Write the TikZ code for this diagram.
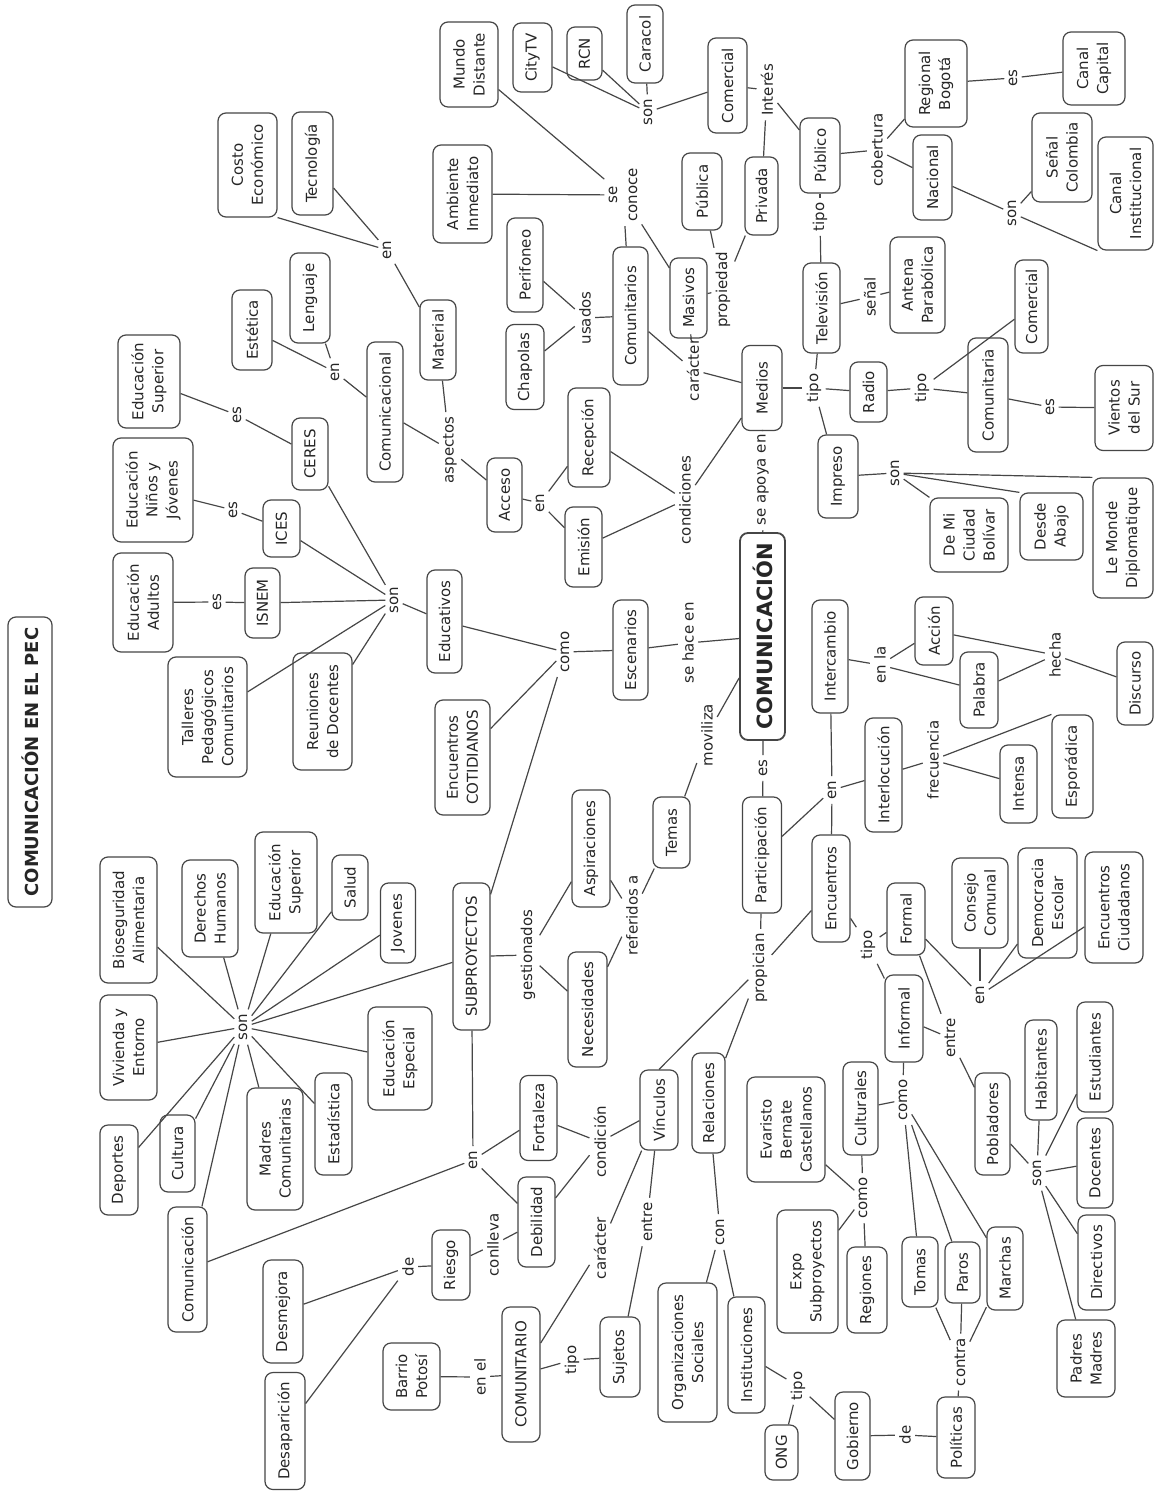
\documentclass[tikz,border=0pt]{standalone}
\usepackage{fontspec}
\setmainfont{DejaVu Sans}
\definecolor{ln}{RGB}{70,70,70}
\tikzset{
 box/.style={draw=ln, line width=0.6pt, rounded corners=4pt, rotate=90, align=center, inner xsep=2pt, inner ysep=1pt, font=\fontsize{7.5}{10}\selectfont, text=black!85},
 lab/.style={rotate=90, align=center, inner sep=2pt, font=\fontsize{7.5}{10}\selectfont, text=black!85},
 conn/.style={draw=ln, line width=0.6pt}
}
\newcommand\Nd[6]{\node[box, minimum width={(#5)*0.5pt}, minimum height={(#4)*0.5pt}] (#1) at (#2,#3) {#6};}
\newcommand\Lb[4]{\node[lab] (#1) at (#2,#3) {#4};}
\begin{document}
\begin{tikzpicture}[x=0.5pt,y=-0.5pt]
\fill[white] (0,0) rectangle (1155,1491);
\useasboundingbox (0,0) rectangle (1155,1491);
% title
\node[box, font=\fontsize{9}{11}\selectfont\bfseries, minimum width=145pt, minimum height=22pt] (title) at (30,762) {COMUNICACIÓN EN EL PEC};
% main
\node[box, font=\fontsize{10.5}{12}\selectfont\bfseries, minimum width=103.5pt, minimum height=22.5pt, line width=0.9pt] (comunicacion) at (762.5,636.5) {COMUNICACIÓN};
% boxes
\Nd{costo}{247.5}{165}{59}{104}{Costo\\Económico}
\Nd{tecno}{312.5}{163.5}{41}{103}{Tecnología}
\Nd{lenguaje}{310}{298}{40}{90}{Lenguaje}
\Nd{estetica}{252}{330}{40}{80}{Estética}
\Nd{material}{438}{340}{36}{80}{Material}
\Nd{comunicacional}{385}{412}{36}{140}{Comunicacional}
\Nd{mundo}{469}{64.5}{58}{85}{Mundo\\Distante}
\Nd{citytv}{532.5}{57.5}{39}{69}{CityTV}
\Nd{rcn}{584.5}{53.5}{35}{53}{RCN}
\Nd{caracol}{645}{44}{36}{78}{Caracol}
\Nd{comtv}{727.5}{85.5}{39}{95}{Comercial}
\Nd{ambiente}{462.5}{194}{59}{98}{Ambiente\\Inmediato}
\Nd{perifoneo}{525}{265}{36}{94}{Perifoneo}
\Nd{chapolas}{525}{367}{38}{85}{Chapolas}
\Nd{comunitarios}{630.5}{316}{35}{138}{Comunitarios}
\Nd{masivos}{688.5}{298}{37}{80}{Masivos}
\Nd{publica}{702}{191.5}{40}{77}{Pública}
\Nd{privada}{761.5}{196}{33}{78}{Privada}
\Nd{publico}{820}{155.5}{40}{75}{Público}
\Nd{regional}{936}{83.5}{62}{87}{Regional\\Bogotá}
\Nd{canalcap}{1094}{68.5}{62}{73}{Canal\\Capital}
\Nd{nacional}{932.5}{177.5}{39}{85}{Nacional}
\Nd{senal}{1062}{157.5}{60}{89}{Señal\\Colombia}
\Nd{canalinst}{1125.5}{193.5}{55}{113}{Canal\\Institucional}
\Nd{tv}{821.5}{308}{37}{90}{Televisión}
\Nd{antena}{917.5}{285}{55}{96}{Antena\\Parabólica}
\Nd{comradio}{1031.5}{306.5}{33}{93}{Comercial}
\Nd{comunitaria}{988}{395}{40}{114}{Comunitaria}
\Nd{radio}{868.5}{392}{37}{60}{Radio}
\Nd{vientos}{1124}{408}{58}{85}{Vientos\\del Sur}
\Nd{impreso}{838}{476.5}{40}{83}{Impreso}
\Nd{demi}{969}{535}{78}{74}{De Mi\\Ciudad\\Bolívar}
\Nd{desde}{1051.5}{526.5}{63}{67}{Desde\\Abajo}
\Nd{lemonde}{1123}{538}{60}{120}{Le Monde\\Diplomatique}
\Nd{intercambio}{830}{656.5}{36}{113}{Intercambio}
\Nd{accion}{934}{631}{38}{68}{Acción}
\Nd{palabra}{979}{690}{38}{76}{Palabra}
\Nd{discurso}{1135}{683.5}{36}{83}{Discurso}
\Nd{medios}{762}{388}{40}{85}{Medios}
\Nd{acceso}{504.5}{495}{35}{74}{Acceso}
\Nd{recepcion}{589}{437.5}{42}{99}{Recepción}
\Nd{emision}{583.5}{547}{37}{80}{Emisión}
\Nd{edsupA}{149}{381.5}{62}{93}{Educación\\Superior}
\Nd{ceres}{310}{454}{36}{72}{CERES}
\Nd{ednj}{153}{490}{80}{104}{Educación\\Niños y\\Jóvenes}
\Nd{ices}{281.5}{528.5}{37}{57}{ICES}
\Nd{edad}{143}{602.5}{60}{99}{Educación\\Adultos}
\Nd{isnem}{262.5}{603}{35}{70}{ISNEM}
\Nd{talleres}{207.5}{717}{79}{120}{Talleres\\Pedagógicos\\Comunitarios}
\Nd{reuniones}{322.5}{711.5}{59}{117}{Reuniones\\de Docentes}
\Nd{educativos}{444.5}{621.5}{35}{103}{Educativos}
\Nd{escenarios}{630.5}{650}{35}{100}{Escenarios}
\Nd{cotidianos}{462.5}{757.5}{55}{115}{Encuentros\\COTIDIANOS}
\Nd{bioseg}{128.5}{920}{57}{126}{Bioseguridad\\Alimentaria}
\Nd{derechos}{210}{908.5}{56}{97}{Derechos\\Humanos}
\Nd{edsupB}{286}{882.5}{62}{101}{Educación\\Superior}
\Nd{salud}{350}{887.5}{36}{65}{Salud}
\Nd{jovenes}{398}{923}{35}{80}{Jovenes}
\Nd{vivienda}{128.5}{1047.5}{57}{105}{Vivienda y\\Entorno}
\Nd{edesp}{400}{1058.5}{64}{103}{Educación\\Especial}
\Nd{estadistica}{333.5}{1124}{37}{102}{Estadística}
\Nd{madres}{275}{1149}{56}{122}{Madres\\Comunitarias}
\Nd{cultura}{177.5}{1153.5}{35}{77}{Cultura}
\Nd{deportes}{119}{1170}{38}{90}{Deportes}
\Nd{comB}{187.5}{1269.5}{39}{125}{Comunicación}
\Nd{subproy}{471.5}{956.5}{37}{147}{SUBPROYECTOS}
\Nd{aspiraciones}{591}{848.5}{38}{117}{Aspiraciones}
\Nd{necesidades}{587.5}{1009.5}{39}{115}{Necesidades}
\Nd{temas}{671.5}{832.5}{37}{71}{Temas}
\Nd{participacion}{762}{855}{39}{116}{Participación}
\Nd{interlocucion}{883.5}{775}{37}{114}{Interlocución}
\Nd{intensa}{1018.5}{784}{37}{78}{Intensa}
\Nd{esporadica}{1072.5}{766.5}{41}{103}{Esporádica}
\Nd{encuentros}{831}{888.5}{38}{107}{Encuentros}
\Nd{formal}{906}{919}{38}{72}{Formal}
\Nd{consejo}{980}{903}{56}{90}{Consejo\\Comunal}
\Nd{democracia}{1047.5}{903}{59}{110}{Democracia\\Escolar}
\Nd{encciud}{1114}{907.5}{58}{111}{Encuentros\\Ciudadanos}
\Nd{informal}{904}{1018.5}{38}{87}{Informal}
\Nd{habitantes}{1041}{1070}{32}{100}{Habitantes}
\Nd{estudiantes}{1095}{1057}{36}{110}{Estudiantes}
\Nd{pobladores}{992.5}{1124}{35}{102}{Pobladores}
\Nd{culturales}{860.5}{1108.5}{35}{93}{Culturales}
\Nd{evaristo}{786}{1129.5}{78}{105}{Evaristo\\Bernate\\Castellanos}
\Nd{docentes}{1095}{1163}{36}{90}{Docentes}
\Nd{directivos}{1096.5}{1262.5}{37}{95}{Directivos}
\Nd{padres}{1086}{1358.5}{58}{77}{Padres\\Madres}
\Nd{expo}{807.5}{1271.5}{61}{123}{Expo\\Subproyectos}
\Nd{regiones}{867}{1290}{40}{86}{Regiones}
\Nd{tomas}{920}{1272}{36}{70}{Tomas}
\Nd{paros}{962.5}{1272.5}{35}{61}{Paros}
\Nd{marchas}{1005}{1268.5}{36}{83}{Marchas}
\Nd{politicas}{956}{1437.5}{38}{81}{Políticas}
\Nd{gobierno}{852.5}{1436}{35}{88}{Gobierno}
\Nd{ong}{781.5}{1452.5}{33}{55}{ONG}
\Nd{fortaleza}{538.5}{1118}{37}{85}{Fortaleza}
\Nd{vinculos}{659}{1110}{38}{80}{Vínculos}
\Nd{relaciones}{708.5}{1103}{33}{100}{Relaciones}
\Nd{debilidad}{536.5}{1222}{37}{90}{Debilidad}
\Nd{riesgo}{451}{1265}{38}{70}{Riesgo}
\Nd{desmejora}{283}{1311.5}{40}{103}{Desmejora}
\Nd{desaparicion}{285}{1431}{40}{117}{Desaparición}
\Nd{organiz}{687.5}{1352.5}{59}{139}{Organizaciones\\Sociales}
\Nd{instituciones}{746.5}{1355}{37}{116}{Instituciones}
\Nd{sujetos}{620}{1357}{40}{80}{Sujetos}
\Nd{comunitario}{521}{1374.5}{38}{135}{COMUNITARIO}
\Nd{barrio}{411.5}{1376.5}{57}{67}{Barrio\\Potosí}
% labels
\Lb{enMat}{387}{250}{en}
\Lb{enCom}{335}{372}{en}
\Lb{sonTv}{648}{112}{son}
\Lb{interes}{767}{90}{Interés}
\Lb{seconoce}{623}{195}{se\\conoce}
\Lb{usados}{585}{318}{usados}
\Lb{propiedad}{723}{290}{propiedad}
\Lb{cobertura}{877}{150}{cobertura}
\Lb{esCap}{1013}{78}{es}
\Lb{sonNac}{1012}{213}{son}
\Lb{tipoPub}{820}{217}{tipo}
\Lb{senalL}{870}{297}{señal}
\Lb{tipoMed}{814}{388}{tipo}
\Lb{tipoRad}{922}{388}{tipo}
\Lb{esVien}{1050}{407}{es}
\Lb{sonImp}{895}{473}{son}
\Lb{enla}{880}{665}{en la}
\Lb{hecha}{1055}{655}{hecha}
\Lb{seapoya}{763}{480}{se apoya en}
\Lb{caracterA}{693}{370}{carácter}
\Lb{condiciones}{685}{500}{condiciones}
\Lb{aspectos}{450}{450}{aspectos}
\Lb{enAcc}{540}{503}{en}
\Lb{esCeres}{237}{415}{es}
\Lb{esIces}{233}{510}{es}
\Lb{esIsnem}{217}{602}{es}
\Lb{sonEdu}{394}{600}{son}
\Lb{comoA}{565}{652}{como}
\Lb{sehace}{688}{643}{se hace en}
\Lb{moviliza}{707}{735}{moviliza}
\Lb{sonSub}{243}{1027}{son}
\Lb{gestionados}{528}{955}{gestionados}
\Lb{referidos}{632}{915}{referidos a}
\Lb{esPart}{763}{768}{es}
\Lb{propician}{760}{968}{propician}
\Lb{enPart}{832}{790}{en}
\Lb{frecuencia}{933}{760}{frecuencia}
\Lb{tipoEnc}{868}{945}{tipo}
\Lb{enFormal}{980}{995}{en}
\Lb{entreA}{950}{1038}{entre}
\Lb{comoInf}{903}{1100}{como}
\Lb{sonPob}{1037}{1173}{son}
\Lb{comoCult}{863}{1198}{como}
\Lb{contra}{960}{1362}{contra}
\Lb{dePol}{905}{1435}{de}
\Lb{tipoInst}{798}{1386}{tipo}
\Lb{enSub}{473}{1160}{en}
\Lb{condicion}{600}{1142}{condición}
\Lb{conlleva}{493}{1245}{conlleva}
\Lb{deRiesgo}{408}{1267}{de}
\Lb{caracterB}{600}{1248}{carácter}
\Lb{entreB}{647}{1222}{entre}
\Lb{con}{720}{1232}{con}
\Lb{tipoSuj}{572}{1360}{tipo}
\Lb{enel}{480}{1377}{en el}
% connectors
\foreach \a/\b in {tecno/enMat, enMat/material, material/aspectos, comunicacional/aspectos, aspectos/acceso,
 comunicacional/enCom, enCom/estetica, enCom/lenguaje,
 mundo/seconoce, ambiente/seconoce, seconoce/comunitarios, seconoce/masivos,
 citytv/sonTv, rcn/sonTv, caracol/sonTv, sonTv/comtv, comtv/interes, interes/privada, interes/publico,
 perifoneo/usados, chapolas/usados, usados/comunitarios,
 masivos/propiedad, propiedad/publica, propiedad/privada,
 publico/cobertura, cobertura/regional, cobertura/nacional, regional/esCap, esCap/canalcap,
 nacional/sonNac, sonNac/senal,
 publico/tipoPub, tipoPub/tv, tv/senalL, senalL/antena,
 medios/tipoMed, tipoMed/tv, tipoMed/radio, tipoMed/impreso,
 radio/tipoRad, tipoRad/comradio, tipoRad/comunitaria, comunitaria/esVien, esVien/vientos,
 impreso/sonImp,
 intercambio/enla, enla/accion, enla/palabra, accion/hecha, palabra/hecha, hecha/discurso,
 comunicacion/seapoya, seapoya/medios,
 medios/caracterA, caracterA/masivos, caracterA/comunitarios,
 medios/condiciones, condiciones/recepcion, condiciones/emision,
 acceso/enAcc, enAcc/recepcion, enAcc/emision,
 ceres/esCeres, esCeres/edsupA, ices/esIces, esIces/ednj, isnem/esIsnem, esIsnem/edad,
 educativos/sonEdu, sonEdu/ceres, sonEdu/ices, sonEdu/isnem, sonEdu/talleres, sonEdu/reuniones,
 escenarios/comoA, comoA/educativos, comoA/cotidianos, comoA/subproy,
 escenarios/sehace, sehace/comunicacion, temas/moviliza, moviliza/comunicacion,
 subproy/sonSub, sonSub/bioseg, sonSub/derechos, sonSub/edsupB, sonSub/salud, sonSub/jovenes, sonSub/vivienda,
 sonSub/edesp, sonSub/estadistica, sonSub/madres, sonSub/cultura, sonSub/deportes, sonSub/comB,
 subproy/gestionados, gestionados/aspiraciones, gestionados/necesidades,
 aspiraciones/referidos, necesidades/referidos, referidos/temas,
 comunicacion/esPart, esPart/participacion,
 participacion/propician, propician/relaciones, propician/encuentros,
 participacion/enPart, enPart/intercambio, enPart/interlocucion, enPart/encuentros,
 interlocucion/frecuencia, frecuencia/intensa,
 encuentros/tipoEnc, tipoEnc/formal, tipoEnc/informal,
 formal/enFormal, enFormal/consejo, enFormal/democracia, enFormal/encciud,
 formal/entreA, informal/entreA, entreA/pobladores,
 informal/comoInf, comoInf/culturales, comoInf/tomas, comoInf/paros, comoInf/marchas,
 pobladores/sonPob, sonPob/habitantes, sonPob/estudiantes, sonPob/docentes, sonPob/directivos, sonPob/padres,
 culturales/comoCult, comoCult/evaristo, comoCult/expo, comoCult/regiones,
 tomas/contra, paros/contra, marchas/contra, contra/politicas,
 politicas/dePol, dePol/gobierno,
 instituciones/tipoInst, tipoInst/ong, tipoInst/gobierno,
 subproy/enSub, enSub/fortaleza, enSub/debilidad, enSub/comB,
 fortaleza/condicion, debilidad/condicion, condicion/vinculos,
 debilidad/conlleva, conlleva/riesgo, riesgo/deRiesgo, deRiesgo/desmejora, deRiesgo/desaparicion,
 vinculos/caracterB, caracterB/comunitario, vinculos/entreB, entreB/sujetos,
 relaciones/con, con/organiz, con/instituciones,
 comunitario/tipoSuj, tipoSuj/sujetos, comunitario/enel, enel/barrio}
 \draw[conn] (\a) -- (\b);
% connectors ending at box corners
\draw[conn] (costo.south west) -- (enMat);
\draw[conn] (sonImp) -- (demi.north east);
\draw[conn] (sonImp) -- (desde.north east);
\draw[conn] (sonImp) -- (lemonde.north east);
\draw[conn] (frecuencia) -- (esporadica.north east);
\draw[conn] (sonNac) -- (canalinst.north west);
\draw[conn] (propician) -- (vinculos.east);
\end{tikzpicture}
\end{document}
